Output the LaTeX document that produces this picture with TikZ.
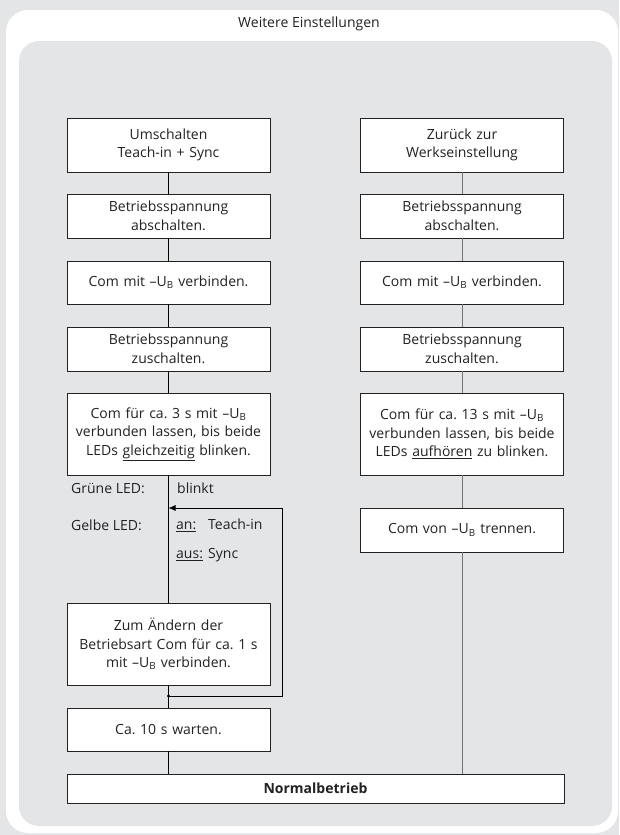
\documentclass[tikz,border=0pt]{standalone}
\usepackage{fontspec}
\setmainfont{Open Sans}
\usetikzlibrary{arrows.meta}
\definecolor{panelgray}{HTML}{E4E5E7}
\definecolor{inkgray}{HTML}{222222}
\newcommand{\UB}{--U\textsubscript{B}}
\tikzset{
  box/.style={draw=inkgray, fill=white, line width=0.8pt, inner sep=0pt,
    text width=201pt, minimum width=203pt, align=center, text=inkgray,
    font=\fontsize{14}{18.5}\selectfont},
  lbl/.style={anchor=west, inner sep=0pt, text=inkgray,
    font=\fontsize{14}{18.5}\selectfont},
  link/.style={draw=black, line width=0.7pt},
  linkr/.style={draw=black!55, line width=0.9pt}
}
\begin{document}
\frenchspacing
\begin{tikzpicture}[x=1pt, y=-1pt]
   % frame
   \fill[panelgray] (0,0) rectangle (619,835);
   \useasboundingbox (0,0) rectangle (619,835);
   \fill[white, rounded corners=22pt] (6,10) rectangle (618,833);
   \fill[panelgray, rounded corners=20pt] (19,41) rectangle (612,826);
   \node[lbl, anchor=center] (title) at (309,24) {Weitere Einstellungen};

   % left column
   \foreach \n/\y/\h/\t in
     { lt/145/54/{Umschalten\\Teach-in + Sync},
       l1/216/44/{Betriebsspannung\\abschalten.},
       l2/282.5/43/{Com mit \UB{} verbinden.},
       l3/349/44/{Betriebsspannung\\zuschalten.},
       l4/434/82/{Com f\"ur ca. 3 s mit \UB\\verbunden lassen, bis beide\\LEDs \underline{gleichzeitig} blinken.},
       lz/644/82/{Zum \"Andern der\\Betriebsart Com f\"ur ca. 1 s\\mit \UB{} verbinden.},
       lw/729.5/43/{Ca. 10 s warten.}
     }
     \node[box, minimum height=\h pt] (\n) at (168.5,\y) {\t};

   % right column
   \foreach \n/\y/\h/\t in
     { rt/145/54/{Zur\"uck zur\\Werkseinstellung},
       r1/216/44/{Betriebsspannung\\abschalten.},
       r2/282.5/43/{Com mit \UB{} verbinden.},
       r3/349/44/{Betriebsspannung\\zuschalten.},
       r4/434/82/{Com f\"ur ca. 13 s mit \UB\\verbunden lassen, bis beide\\LEDs \underline{aufh\"oren} zu blinken.},
       r5/530/44/{Com von \UB{} trennen.}
     }
     \node[box, minimum height=\h pt] (\n) at (462,\y) {\t};

   \node[box, minimum width=497pt, text width=490pt, minimum height=29pt,
     font=\fontsize{14}{18.5}\selectfont\bfseries] (nb) at (315.5,788.5) {Normalbetrieb};

   % LED states
   \node[lbl] (gruen) at (71,488) {Gr\"une LED:};
   \node[lbl] (blinkt) at (177,488) {blinkt};
   \node[lbl] (gelb) at (71,525) {Gelbe LED:};
   \node[lbl] (an) at (176,525) {\makebox[32pt][l]{\underline{an:}}Teach-in};
   \node[lbl] (aus) at (176,555) {\makebox[32pt][l]{\underline{aus:}}Sync};

   % connectors
   \draw[link] (lt) -- (l1) (l1) -- (l2) (l2) -- (l3) (l3) -- (l4)
     (l4) -- (lz) (lz) -- (lw);
   \draw[link] (lw.south) -- (lw.south |- nb.north);
   \draw[linkr] (rt) -- (r1) (r1) -- (r2) (r2) -- (r3) (r3) -- (r4) (r4) -- (r5);
   \draw[linkr] (r5.south) -- (r5.south |- nb.north);

   % loop back
   \coordinate (j) at (168.5,696);
   \coordinate (jr) at (282,696);
   \coordinate (ar) at (168.5,508);
   \fill (j) circle (1.6pt);
   \draw[link, -{Latex[length=7pt, width=6pt]}] (j) -- (jr) |- (ar);
\end{tikzpicture}
\end{document}
